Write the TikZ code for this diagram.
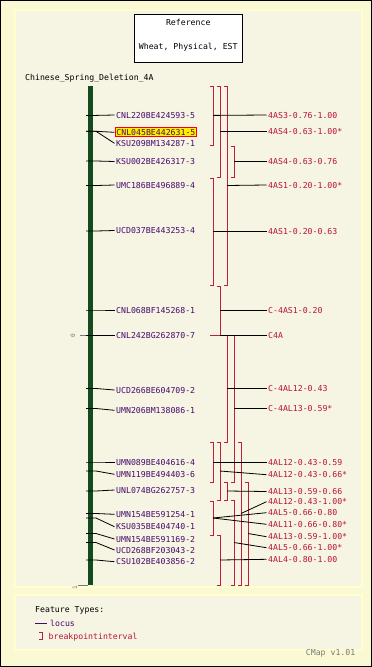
\documentclass[tikz,border=0pt]{standalone}
\usepackage{fontspec}
\newfontfamily\monofam{DejaVu Sans Mono}
\definecolor{outerbg}{RGB}{251,249,212}
\definecolor{panelbg}{RGB}{246,244,226}
\definecolor{panelrim}{RGB}{255,255,205}
\definecolor{locuscol}{RGB}{70,10,110}
\definecolor{ivcol}{RGB}{185,20,55}
\definecolor{brkcol}{RGB}{190,30,60}
\definecolor{barcol}{RGB}{20,75,30}
\definecolor{hlfill}{RGB}{255,238,0}
\definecolor{scalecol}{RGB}{120,120,120}
\newcommand\lblfont{\monofam\fontsize{8.2}{9}\selectfont}
\newcommand\smallfont{\monofam\fontsize{6}{7}\selectfont}
\tikzset{
  lbl/.style={font=\lblfont, anchor=west, inner xsep=1.5pt, inner ysep=0pt, text height=6pt, text depth=0pt},
  locuslbl/.style={lbl, text=locuscol},
  ivlbl/.style={lbl, text=ivcol},
  conn/.style={draw=black, line width=0.8pt},
  brk/.style={draw=brkcol, line width=0.9pt},
  panel/.style={fill=panelbg, draw=panelrim, line width=1.5pt},
}
\newcommand\bracketiv[5]{\draw[brk] (#2-3,#3) -- (#2,#3) -- (#2,#4) -- (#2-3,#4); \coordinate (#1) at (#2,#5);}
\newcommand\locus[5][]{\coordinate (#2b) at (86,#3); \node[locuslbl,#1] (#2) at (114.5,#4) {#5}; \draw[conn] (#2b) -- ++(10,0) -- (#2.west);}
\newcommand\ivlabel[4]{\node[ivlbl] (#1) at (266.5,#2) {#3}; \draw[conn] (#4) -- (#1.west);}
\begin{document}
\begin{tikzpicture}[x=1pt,y=-1pt]
\useasboundingbox (0,0) rectangle (372,667);
\fill[outerbg] (0,0) rectangle (372,667);
\draw[black, line width=1pt] (0.5,0.5) rectangle (371.5,666.5);
\draw[panel] (15,10) rectangle (362,587);
\draw[panel] (15,595) rectangle (362,650);
% reference box
\node[draw=black, fill=white, line width=0.9pt, minimum width=107.5pt, minimum height=48pt, inner sep=0pt] (ref) at (188.25,38.5) {};
\node[lbl, anchor=center, text=black] (reft) at (188.25,22.5) {Reference};
\node[lbl, anchor=center, text=black] (refs) at (188.25,46) {Wheat, Physical, EST};
\node[lbl, text=black] (title) at (23.5,77.3) {Chinese\_Spring\_Deletion\_4A};
% chromosome bar
\fill[barcol] (88,86) rectangle (93,585);
% scale
\draw[scalecol, line width=0.8pt] (80,335.5) -- (88,335.5);
\node[font=\smallfont, text=scalecol, rotate=90, inner sep=0pt] (s0) at (73,335.5) {0};
\draw[scalecol, line width=0.8pt] (78,585) -- (88,585);
\node[font=\smallfont, text=scalecol, rotate=90, inner sep=0pt] (s1) at (75,588) {1};
% loci
\locus{L1}{115.4}{115}{CNL220BE424593-5}
\locus[fill=hlfill, draw=red, line width=0.8pt, inner ysep=1.5pt]{L2}{131.3}{132.3}{CNL045BE442631-5}
\locus{L3}{131.3}{143.3}{KSU209BM134287-1}
\locus{L4}{161}{161.5}{KSU002BE426317-3}
\locus{L5}{185.5}{185}{UMC186BE496889-4}
\locus{L6}{231}{230.5}{UCD037BE443253-4}
\locus{L7}{310}{310}{CNL068BF145268-1}
\locus{L8}{335.5}{335.5}{CNL242BG262870-7}
\locus{L9}{388.5}{390}{UCD266BE604709-2}
\locus{L10}{408.5}{410.3}{UMN206BM138086-1}
\locus{L11}{462}{462}{UMN089BE404616-4}
\locus{L12}{471}{474.3}{UMN119BE494403-6}
\locus{L13}{491}{490}{UNL074BG262757-3}
\locus{L14}{513.5}{514.3}{UMN154BE591254-1}
\locus{L15}{518}{526.7}{KSU035BE404740-1}
\locus{L16}{533.5}{539}{UMN154BE591169-2}
\locus{L17}{542.5}{550}{UCD268BF203043-2}
\locus{L18}{560}{561.7}{CSU102BE403856-2}
% breakpoint intervals
\bracketiv{B1}{213}{86}{145.5}{115.4}
\bracketiv{B2}{220}{86}{177}{131.3}
\bracketiv{B3}{227}{86}{285}{185.5}
\bracketiv{B4}{234}{146}{177}{161}
\bracketiv{B5}{213}{178}{285}{231}
\bracketiv{B6}{220}{286}{335.5}{310}
\coordinate (BC) at (220,335.5);
\draw[brk] (210,335.5) -- (BC);
\bracketiv{B7}{227}{335.5}{442}{388.5}
\bracketiv{B8}{234}{335.5}{482}{408.5}
\bracketiv{B9}{213}{442}{482}{462}
\bracketiv{B10}{220}{442}{500}{471}
\bracketiv{B11}{241}{442}{585}{513.5}
\bracketiv{B12}{227}{482}{500}{491}
\bracketiv{B13}{213}{501}{535}{518}
\bracketiv{B14}{234}{500}{585}{542.5}
\bracketiv{B15}{248}{482}{585}{533.5}
\bracketiv{B16}{220}{535}{585}{560}
% interval labels
\ivlabel{I1}{115}{4AS3-0.76-1.00}{B1}
\ivlabel{I2}{131.3}{4AS4-0.63-1.00*}{B2}
\ivlabel{I3}{161}{4AS4-0.63-0.76}{B4}
\ivlabel{I4}{185}{4AS1-0.20-1.00*}{B3}
\ivlabel{I5}{231}{4AS1-0.20-0.63}{B5}
\ivlabel{I6}{310}{C-4AS1-0.20}{B6}
\ivlabel{I7}{335.5}{C4A}{BC}
\ivlabel{I8}{388.5}{C-4AL12-0.43}{B7}
\ivlabel{I9}{408.5}{C-4AL13-0.59*}{B8}
\ivlabel{I10}{462}{4AL12-0.43-0.59}{B9}
\ivlabel{I11}{474.7}{4AL12-0.43-0.66*}{B10}
\ivlabel{I12}{491.5}{4AL13-0.59-0.66}{B12}
\ivlabel{I13}{501.7}{4AL12-0.43-1.00*}{B11}
\ivlabel{I14}{512.7}{4AL5-0.66-0.80}{B13}
\ivlabel{I15}{524.3}{4AL11-0.66-0.80*}{B13}
\ivlabel{I16}{536.7}{4AL13-0.59-1.00*}{B15}
\ivlabel{I17}{547.7}{4AL5-0.66-1.00*}{B14}
\ivlabel{I18}{559.3}{4AL4-0.80-1.00}{B16}
% legend
\node[lbl, text=black] (ft) at (33.5,609.3) {Feature Types:};
\coordinate (lg1a) at (35,623);
\coordinate (lg1b) at (47,623);
\draw[locuscol, line width=0.9pt] (lg1a) -- (lg1b);
\node[lbl, text=locuscol] (lgl) at (48.5,623) {locus};
\draw[brk] (39,632) -- (42,632) -- (42,639.5) -- (39,639.5);
\node[lbl, text=ivcol] (lgb) at (47,636) {breakpointinterval};
\node[lbl, anchor=east, text=scalecol] (ver) at (357,652.7) {CMap v1.01};
\end{tikzpicture}
\end{document}
